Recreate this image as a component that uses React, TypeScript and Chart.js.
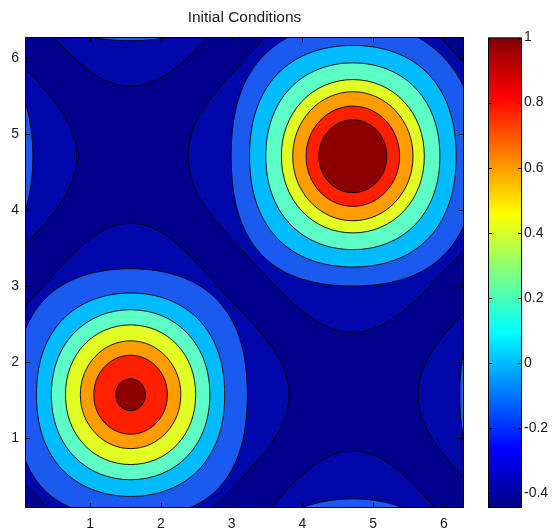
import React, { useEffect, useRef } from 'react';
import { Chart, registerables } from 'chart.js';

Chart.register(...registerables);

const TWO_PI = 6.2832;
const xRange = [0.0785, 6.2832];
const yRange = [0.0785, 6.2832];
const xTicks = [1, 2, 3, 4, 5, 6];
const yTicks = [1, 2, 3, 4, 5, 6];
const cbRange = [-0.445, 1.0];
const cbTicks = [-0.4, -0.2, 0, 0.2, 0.4, 0.6, 0.8, 1];
const titleText = 'Initial Conditions';

// jet colormap stops (fraction, colour)
const jetStops: [number, string][] = [
  [0, '#000080'],
  [0.125, '#0000ff'],
  [0.375, '#00ffff'],
  [0.625, '#ffff00'],
  [0.875, '#ff0000'],
  [1, '#800000'],
];

// fill colours of the contour bands, lowest to highest
const bandColors = [
  '#00008C', '#0008AA', '#1A5AF0', '#00BCFF', '#5EFFC6',
  '#E2FF24', '#FF9C00', '#FF2000', '#8C0000',
];

// peak centres
const peakBL = [1.5708, 1.5708];
const peakTR = [4.7124, 4.7124];

// contour ring radii, per level (low to high),
// directions E, NE, N, NW, W, SW, S, SE
const ringsBL = [
  [2.24, 1.88, 2.26, 1.88, 2.22, 1.88, 2.22, 1.88],
  [1.65, 1.75, 1.66, 1.75, 1.63, 1.75, 1.62, 1.75],
  [1.33, 1.38, 1.34, 1.38, 1.33, 1.38, 1.34, 1.38],
  [1.12, 1.14, 1.12, 1.14, 1.12, 1.14, 1.12, 1.14],
  [0.92, 0.93, 0.92, 0.93, 0.92, 0.93, 0.92, 0.93],
  [0.71, 0.71, 0.71, 0.71, 0.71, 0.71, 0.71, 0.71],
  [0.52, 0.52, 0.52, 0.52, 0.52, 0.52, 0.52, 0.52],
  [0.21, 0.21, 0.21, 0.21, 0.21, 0.21, 0.21, 0.21],
];
const ringsTR = [
  [2.38, 1.98, 2.40, 1.98, 2.33, 1.98, 2.32, 1.98],
  [1.76, 1.83, 1.77, 1.83, 1.72, 1.83, 1.71, 1.83],
  [1.46, 1.52, 1.46, 1.52, 1.46, 1.52, 1.46, 1.52],
  [1.23, 1.26, 1.23, 1.26, 1.23, 1.26, 1.23, 1.26],
  [1.01, 1.02, 1.01, 1.02, 1.01, 1.02, 1.01, 1.02],
  [0.85, 0.85, 0.85, 0.85, 0.85, 0.85, 0.85, 0.85],
  [0.66, 0.66, 0.66, 0.66, 0.66, 0.66, 0.66, 0.66],
  [0.48, 0.48, 0.48, 0.48, 0.48, 0.48, 0.48, 0.48],
];

// periodic copies of each peak (domain is 2*pi periodic)
const shiftsBL = [[0, 0], [TWO_PI, 0], [0, TWO_PI], [TWO_PI, TWO_PI]];
const shiftsTR = [[0, 0], [-TWO_PI, 0], [0, -TWO_PI], [-TWO_PI, -TWO_PI]];

const FONT = "'Liberation Sans', Arial, Helvetica, sans-serif";
const TEXT = '#1a1a1a';

function ringPoints(center: number[], shift: number[], radii: number[]) {
  const n = radii.length;
  const pts = radii.map((r, i) => {
    const a = (i / n) * 2 * Math.PI;
    return { x: center[0] + shift[0] + r * Math.cos(a), y: center[1] + shift[1] + r * Math.sin(a) };
  });
  // wrap so every drawn segment has both neighbours (smooth closed curve)
  return [pts[n - 1], ...pts, pts[0], pts[1]];
}

function buildDatasets() {
  const list: any[] = [];
  for (let k = 0; k < ringsBL.length; k++) {
    const peaks: [number[], number[][], number[]][] = [
      [peakBL, shiftsBL, ringsBL[k]],
      [peakTR, shiftsTR, ringsTR[k]],
    ];
    for (const [c, shifts, radii] of peaks) {
      for (const s of shifts) {
        const data = ringPoints(c, s, radii);
        const last = data.length - 1;
        list.push({
          data,
          showLine: true,
          fill: 'shape',
          backgroundColor: bandColors[k + 1],
          borderColor: '#000',
          borderWidth: 0.9,
          pointRadius: 0,
          pointHoverRadius: 0,
          tension: 0.38,
          clip: 0,
          segment: {
            borderColor: (ctx: any) =>
              ctx.p0DataIndex === 0 || ctx.p1DataIndex === last ? 'rgba(0,0,0,0)' : undefined,
          },
        });
      }
    }
  }
  // first dataset is drawn on top in Chart.js
  return list.reverse();
}

const mainPlugin = {
  id: 'contourFrame',
  beforeDatasetsDraw(chart: any) {
    const { ctx, chartArea: a } = chart;
    ctx.save();
    ctx.fillStyle = bandColors[0];
    ctx.fillRect(a.left, a.top, a.right - a.left, a.bottom - a.top);
    ctx.restore();
  },
  afterDatasetsDraw(chart: any) {
    const { ctx, chartArea: a, scales } = chart;
    ctx.save();
    ctx.strokeStyle = '#000';
    ctx.lineWidth = 1;
    ctx.beginPath();
    for (const v of xTicks) {
      const px = Math.round(scales.x.getPixelForValue(v)) + 0.5;
      ctx.moveTo(px, a.bottom);
      ctx.lineTo(px, a.bottom - 5);
      ctx.moveTo(px, a.top);
      ctx.lineTo(px, a.top + 5);
    }
    for (const v of yTicks) {
      const py = Math.round(scales.y.getPixelForValue(v)) + 0.5;
      ctx.moveTo(a.left, py);
      ctx.lineTo(a.left + 5, py);
      ctx.moveTo(a.right, py);
      ctx.lineTo(a.right - 5, py);
    }
    ctx.stroke();
    ctx.strokeRect(a.left + 0.5, a.top + 0.5, a.right - a.left - 1, a.bottom - a.top - 1);
    ctx.restore();
  },
};

const cbPlugin = {
  id: 'cbFrame',
  afterDatasetsDraw(chart: any) {
    const { ctx, chartArea: a, scales } = chart;
    ctx.save();
    ctx.strokeStyle = '#000';
    ctx.lineWidth = 1;
    ctx.beginPath();
    for (const v of cbTicks) {
      const py = Math.round(scales.y.getPixelForValue(v)) + 0.5;
      ctx.moveTo(a.left, py);
      ctx.lineTo(a.left + 4, py);
      ctx.moveTo(a.right, py);
      ctx.lineTo(a.right - 4, py);
    }
    ctx.stroke();
    ctx.strokeRect(a.left + 0.5, a.top + 0.5, a.right - a.left - 1, a.bottom - a.top - 1);
    ctx.restore();
  },
};

export default function App() {
  const mainRef = useRef<HTMLCanvasElement>(null);
  const cbRef = useRef<HTMLCanvasElement>(null);

  useEffect(() => {
    const main = new Chart(mainRef.current as HTMLCanvasElement, {
      type: 'scatter',
      data: { datasets: buildDatasets() },
      options: {
        animation: false,
        responsive: false,
        maintainAspectRatio: false,
        events: [],
        layout: { padding: { left: 0, top: 0, right: 90, bottom: 0 } },
        plugins: {
          legend: { display: false },
          tooltip: { enabled: false },
          title: {
            display: true,
            text: titleText,
            fullSize: false,
            color: TEXT,
            font: { family: FONT, size: 15.5, weight: 'normal' },
            padding: { top: 8.4, bottom: 10 },
          },
        },
        scales: {
          x: {
            type: 'linear',
            min: xRange[0],
            max: xRange[1],
            afterBuildTicks: (s: any) => { s.ticks = xTicks.map((v) => ({ value: v })); },
            afterFit: (s: any) => { s.height = 24; },
            grid: { display: false, drawTicks: false },
            border: { display: false },
            ticks: {
              padding: 8,
              color: TEXT,
              font: { family: FONT, size: 14 },
              maxRotation: 0,
              autoSkip: false,
              callback: (v: any) => String(v),
            },
          },
          y: {
            type: 'linear',
            min: yRange[0],
            max: yRange[1],
            afterBuildTicks: (s: any) => { s.ticks = yTicks.map((v) => ({ value: v })); },
            afterFit: (s: any) => { s.width = 25; },
            grid: { display: false, drawTicks: false },
            border: { display: false },
            ticks: {
              padding: 6,
              color: TEXT,
              font: { family: FONT, size: 14 },
              autoSkip: false,
              callback: (v: any) => String(v),
            },
          },
        },
      } as any,
      plugins: [mainPlugin],
    });

    const cb = new Chart(cbRef.current as HTMLCanvasElement, {
      type: 'bar',
      data: {
        labels: [''],
        datasets: [
          {
            data: [[cbRange[0], cbRange[1]]] as any,
            borderWidth: 0,
            barPercentage: 1,
            categoryPercentage: 1,
            backgroundColor: (c: any) => {
              const area = c.chart.chartArea;
              if (!area) return jetStops[0][1];
              const g = c.chart.ctx.createLinearGradient(0, area.bottom, 0, area.top);
              for (const [f, col] of jetStops) g.addColorStop(f, col);
              return g;
            },
          },
        ],
      },
      options: {
        animation: false,
        responsive: false,
        maintainAspectRatio: false,
        events: [],
        layout: { padding: { left: 8, top: 37.5, right: 0, bottom: 24 } },
        plugins: { legend: { display: false }, tooltip: { enabled: false } },
        scales: {
          x: { display: false },
          y: {
            position: 'right',
            min: cbRange[0],
            max: cbRange[1],
            afterBuildTicks: (s: any) => { s.ticks = cbTicks.map((v) => ({ value: v })); },
            afterFit: (s: any) => { s.width = 32; },
            grid: { display: false, drawTicks: false },
            border: { display: false },
            ticks: {
              padding: 2,
              color: TEXT,
              font: { family: FONT, size: 14 },
              autoSkip: false,
              callback: (v: any) => String(v),
            },
          },
        },
      } as any,
      plugins: [cbPlugin],
    });

    return () => {
      main.destroy();
      cb.destroy();
    };
  }, []);

  return (
    <div style={{ position: 'absolute', left: 0, top: 0, width: 554, height: 532, background: '#fff' }}>
      <canvas ref={mainRef} width={554} height={532} style={{ position: 'absolute', left: 0, top: 0, width: 554, height: 532 }} />
      <canvas ref={cbRef} width={74} height={532} style={{ position: 'absolute', left: 480, top: 0, width: 74, height: 532 }} />
    </div>
  );
}
